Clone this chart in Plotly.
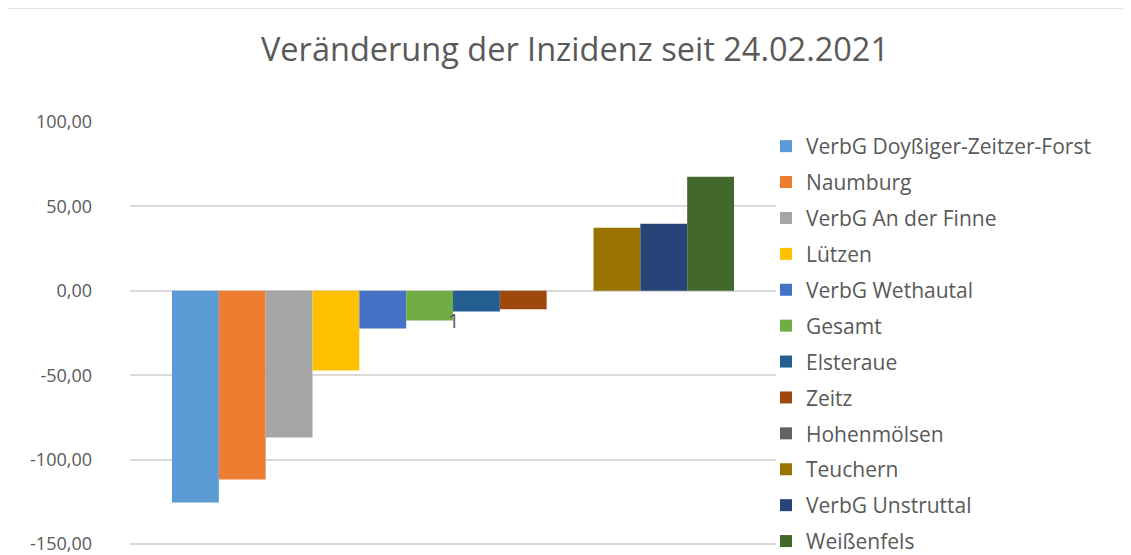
import plotly.graph_objects as go

categories = ["1"]
series_names = [
    "VerbG Doyßiger-Zeitzer-Forst", "Naumburg", "VerbG An der Finne", "Lützen",
    "VerbG Wethautal", "Gesamt", "Elsteraue", "Zeitz", "Hohenmölsen",
    "Teuchern", "VerbG Unstruttal", "Weißenfels",
]
series_values = [-125.4, -111.8, -86.9, -47.2, -22.3, -17.6, -12.2, -11.0, 0.0, 37.3, 39.7, 67.5]
colors = ["#5B9BD5", "#ED7D31", "#A5A5A5", "#FFC000", "#4472C4", "#70AD47",
          "#255E91", "#9E480E", "#636363", "#997300", "#264478", "#43682B"]
y_ticks = [-150, -100, -50, 0, 50, 100]
y_tick_labels = ["-150,00", "-100,00", "-50,00", "0,00", "50,00", "100,00"]

FONT = "Open Sans"
TXT = "#595959"

# page body has an 8px default margin; figure is sized to compensate
W, H = 1123, 547
L, R, T, B = 122, 355, 114, 9
PW, PH = W - L - R, H - T - B
PX_PER_UNIT = 422 / 250
Y_MIN = -150 - (11 - B) / PX_PER_UNIT

fig = go.Figure()
for name, val, col in zip(series_names, series_values, colors):
    fig.add_trace(go.Bar(x=categories, y=[val], name=name,
                         marker=dict(color=col, line=dict(width=0)),
                         legendgroup=name))

fig.update_layout(
    width=W, height=H,
    margin=dict(l=L, r=R, t=T, b=B, pad=0, autoexpand=False),
    paper_bgcolor="white", plot_bgcolor="white",
    barmode="group", bargap=0.13, bargroupgap=0,
    font=dict(family=FONT, color=TXT),
    title=dict(text="Veränderung der Inzidenz seit 24.02.2021",
               x=(575 - 8) / W, xanchor="center",
               y=1 - (50 - 8) / H, yanchor="middle", yref="container",
               font=dict(size=32.5, color=TXT, family=FONT)),
    xaxis=dict(type="category", showticklabels=False, showgrid=False, zeroline=False,
               showline=False, ticks=""),
    yaxis=dict(range=[Y_MIN, 100], tickvals=y_ticks, ticktext=y_tick_labels,
               showgrid=True, gridcolor="#D9D9D9", gridwidth=1.5,
               zeroline=True, zerolinecolor="#D9D9D9", zerolinewidth=1.5,
               showline=False, ticks="", ticklabelstandoff=37,
               ticklabeloverflow="allow", automargin=False,
               tickfont=dict(size=18, color=TXT, family=FONT)),
    legend=dict(x=(758 - L) / PW, xanchor="left", y=(H - B - 118) / PH, yanchor="top", yref="paper",
                font=dict(size=21, color=TXT, family=FONT),
                tracegroupgap=5.6, bgcolor="rgba(0,0,0,0)", traceorder="grouped",
                maxheight=700),
    showlegend=True,
)

fig.add_annotation(x=0, y=0, xref="x", yref="y", text="1", showarrow=False,
                   yanchor="middle", yshift=-30, font=dict(size=20, color=TXT, family=FONT))

fig.add_shape(type="rect", xref="paper", yref="paper",
              x0=(-1 - L) / PW, x1=1.6, y0=-0.2, y1=(H - B - 0) / PH,
              line=dict(color="#D9D9D9", width=1.5), fillcolor="rgba(0,0,0,0)", layer="below")

fig.write_html("out.html")
